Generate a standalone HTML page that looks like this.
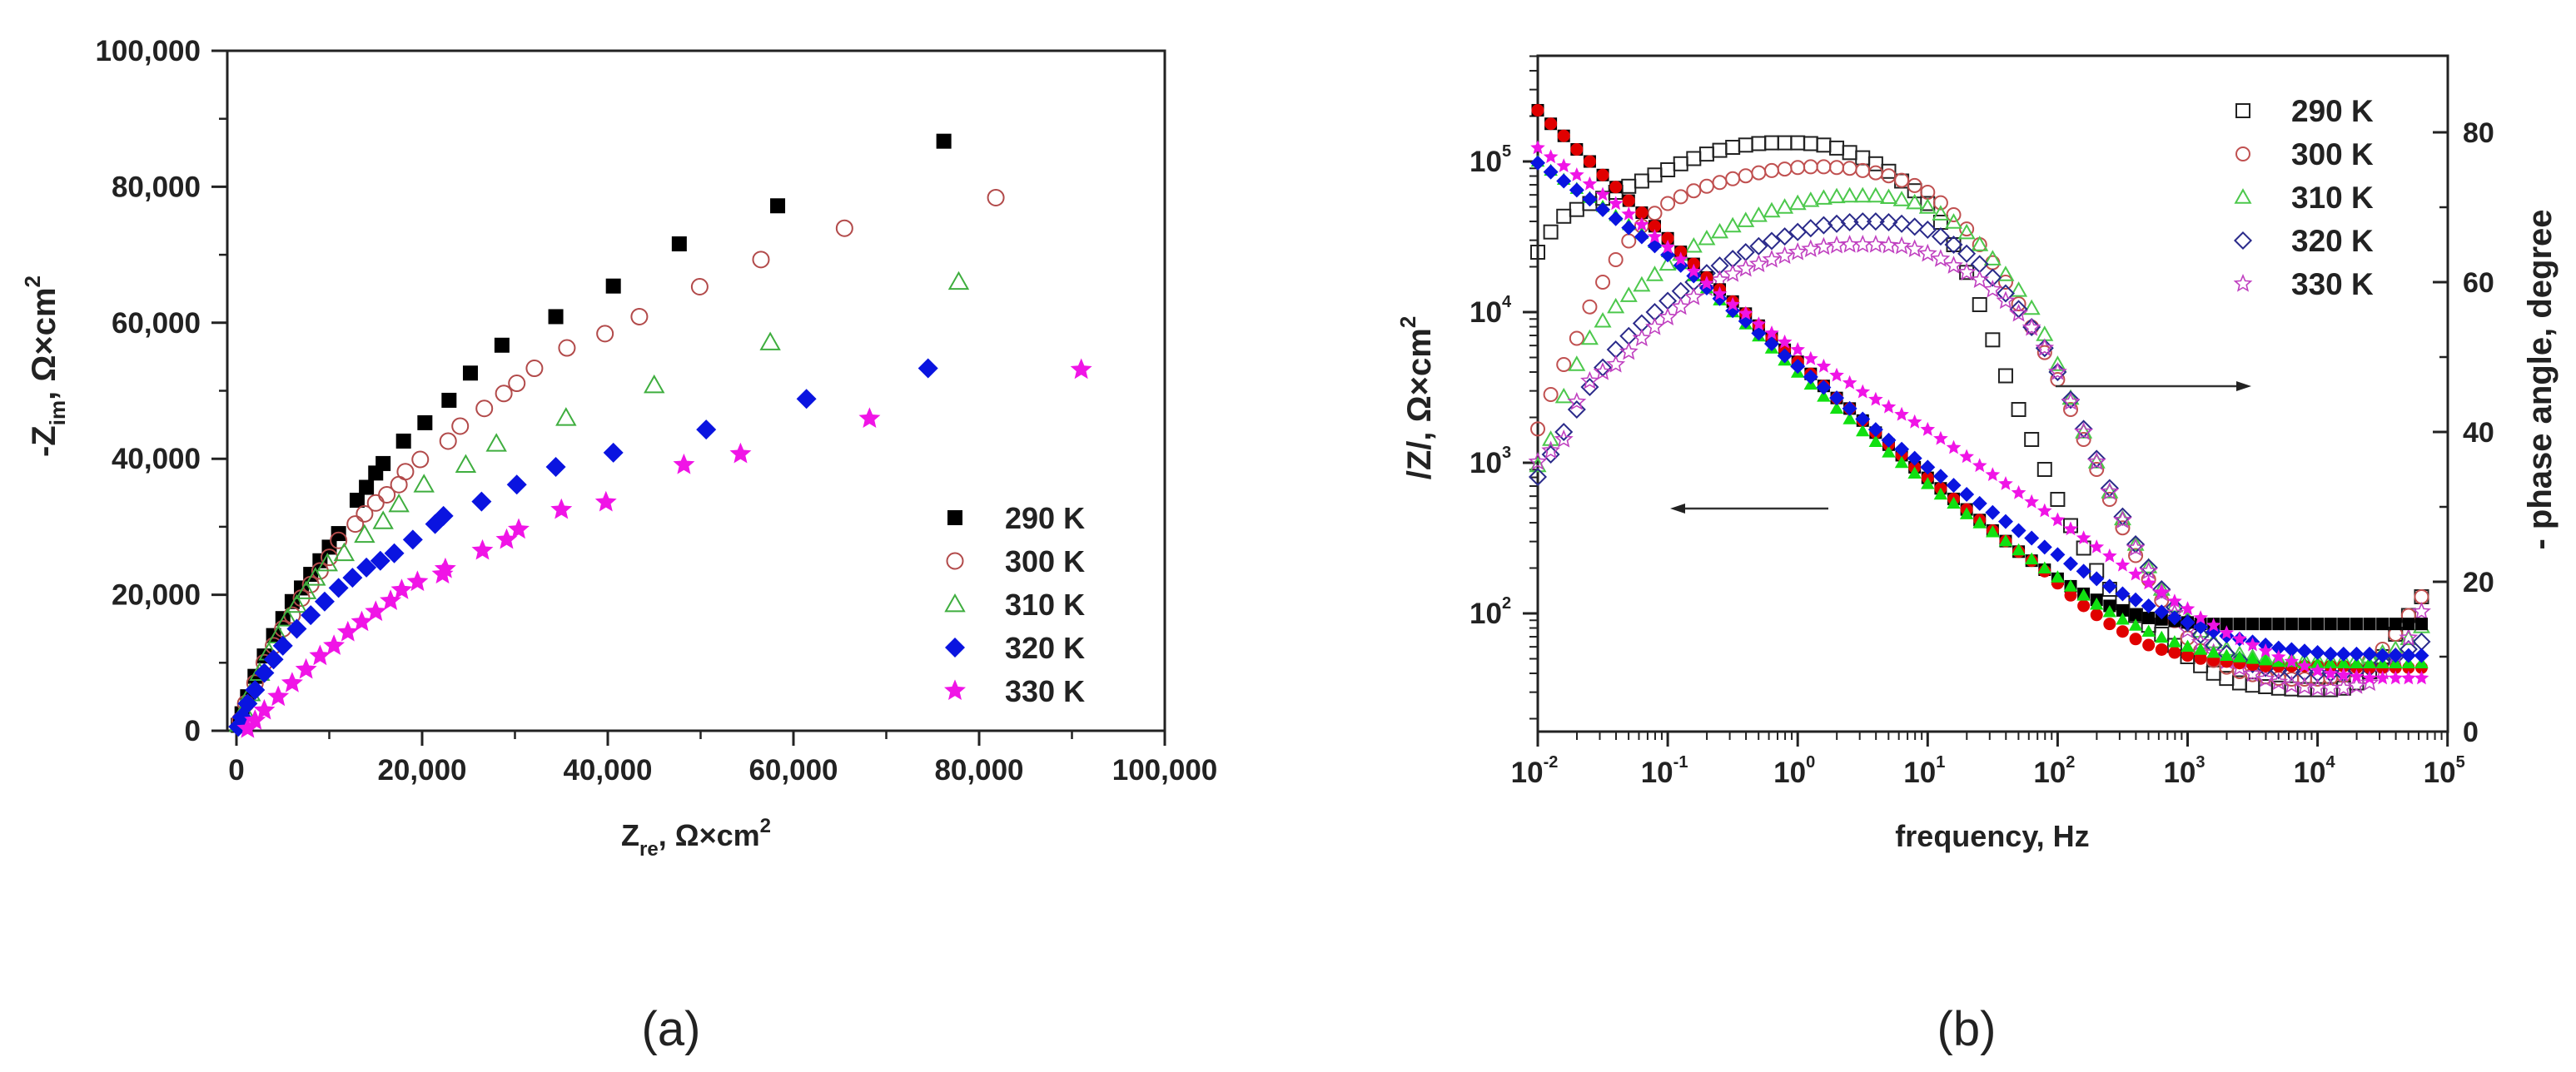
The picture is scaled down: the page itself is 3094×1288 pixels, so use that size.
<!DOCTYPE html>
<html><head><meta charset="utf-8"><style>
html,body{margin:0;padding:0;background:#fff;}
svg{display:block;font-family:"Liberation Sans",Arial,sans-serif;}
</style></head><body>
<svg id="fig" width="3094" height="1288" viewBox="0 0 3094 1288" xmlns="http://www.w3.org/2000/svg"></svg>
<script>
// ---------- Chart (a) data: Nyquist ----------
const nyqZre290=[76200,58300,47700,40600,34400,28600,25200,22900,20300,18000,15800,15000,14000,13000,11000,10000,9000,8000,7000,6000,5000,4000,3000,2000,1200,600,200];
const nyqZim290=[86700,77200,71600,65400,60900,56700,52600,48600,45300,42600,39300,37900,35800,33900,29000,27000,25000,23000,21000,19000,16500,14000,11000,8000,5000,2500,800];
const nyqZre300=[81800,65500,56500,49900,43400,39700,35600,32100,30200,28800,26700,24100,22800,19800,18200,17500,16200,15000,13800,12800,11000,10000,9000,8000,7000,6000,5000,4000,3000,2000,1000,400];
const nyqZim300=[78400,73900,69300,65300,60900,58400,56300,53300,51100,49600,47400,44800,42600,39900,38100,36200,34700,33500,31900,30400,28000,25500,23500,21500,19500,17000,15000,12500,10000,7000,4000,1500];
const nyqZre310=[77800,57500,45000,35500,28000,24700,20200,17500,15800,13800,11600,9800,8500,7500,6500,5500,4500,3500,2500,1500,800,300];
const nyqZim310=[66000,57100,50800,46000,42200,39100,36200,33300,30800,28800,26100,24600,22500,20500,18500,16500,14000,11500,8500,5500,3000,1000];
const nyqZre320=[74500,61400,50600,40600,34400,30200,26400,22300,21400,19000,17000,15500,14000,12500,11000,9500,8000,6500,5000,4000,3000,2000,1200,600,200];
const nyqZim320=[53300,48800,44300,40900,38800,36200,33700,31600,30400,28100,26100,25000,24000,22500,21000,19000,17000,15000,12500,10500,8500,6000,4000,2000,600];
const nyqZre330=[91000,68200,54300,48200,39800,35000,30400,29100,26500,22500,22200,19500,17800,16600,15000,13500,12000,10500,9000,7500,6000,4500,3000,2000,1200];
const nyqZim330=[53100,45900,40700,39100,33600,32500,29600,28100,26500,23800,23000,21900,20700,19100,17500,16000,14500,12500,11000,9000,7000,5000,3000,1500,300];
const nyqXTicks=[0,20000,40000,60000,80000,100000];
const nyqYTicks=[0,20000,40000,60000,80000,100000];
const tempLabels=["290 K","300 K","310 K","320 K","330 K"];

// ---------- Chart (b) data: Bode ----------
const bodeLogF=[-2,-1.9,-1.8,-1.7,-1.6,-1.5,-1.4,-1.3,-1.2,-1.1,
 -1,-0.9,-0.8,-0.7,-0.6,-0.5,-0.4,-0.3,-0.2,-0.1,
 0,0.1,0.2,0.3,0.4,0.5,0.6,0.7,0.8,0.9,
 1,1.1,1.2,1.3,1.4,1.5,1.6,1.7,1.8,1.9,
 2,2.1,2.2,2.3,2.4,2.5,2.6,2.7,2.8,2.9,
 3,3.1,3.2,3.3,3.4,3.5,3.6,3.7,3.8,3.9,
 4,4.1,4.2,4.3,4.4,4.5,4.6,4.7,4.8];
const logZ290=[5.34,5.25,5.17,5.08,5.0,4.91,4.83,4.74,4.66,4.57,
 4.49,4.40,4.32,4.23,4.15,4.07,3.99,3.91,3.83,3.75,
 3.67,3.59,3.51,3.43,3.36,3.28,3.2,3.12,3.05,2.97,
 2.9,2.83,2.76,2.69,2.62,2.55,2.48,2.41,2.35,2.29,
 2.23,2.18,2.13,2.09,2.05,2.02,1.99,1.97,1.96,1.95,
 1.94,1.93,1.93,1.93,1.93,1.93,1.93,1.93,1.93,1.93,
 1.93,1.93,1.93,1.93,1.93,1.93,1.93,1.93,1.93];
const logZ300=[5.34,5.25,5.17,5.08,5.0,4.91,4.83,4.74,4.66,4.57,
 4.49,4.40,4.32,4.23,4.15,4.07,3.99,3.91,3.83,3.75,
 3.67,3.59,3.51,3.43,3.36,3.28,3.2,3.12,3.05,2.97,
 2.9,2.83,2.76,2.69,2.62,2.55,2.48,2.41,2.35,2.28,
 2.2,2.12,2.05,1.99,1.93,1.88,1.83,1.79,1.76,1.74,
 1.72,1.7,1.69,1.68,1.67,1.66,1.65,1.65,1.65,1.65,
 1.65,1.65,1.65,1.64,1.64,1.64,1.64,1.64,1.64];
const logZ310=[5.0,4.94,4.88,4.82,4.76,4.70,4.64,4.58,4.52,4.46,
 4.4,4.32,4.24,4.16,4.08,4.0,3.92,3.84,3.76,3.68,
 3.6,3.52,3.44,3.36,3.29,3.21,3.14,3.07,3.0,2.93,
 2.86,2.79,2.73,2.66,2.6,2.54,2.48,2.42,2.36,2.3,
 2.24,2.18,2.12,2.06,2.01,1.96,1.92,1.88,1.84,1.81,
 1.78,1.76,1.74,1.72,1.71,1.7,1.69,1.68,1.68,1.67,
 1.67,1.67,1.67,1.67,1.67,1.67,1.67,1.67,1.67];
const logZ320=[4.99,4.93,4.87,4.81,4.75,4.68,4.62,4.56,4.5,4.44,
 4.38,4.31,4.24,4.16,4.09,4.01,3.94,3.86,3.79,3.71,
 3.64,3.57,3.5,3.43,3.36,3.29,3.22,3.15,3.09,3.03,
 2.97,2.91,2.85,2.79,2.73,2.67,2.61,2.55,2.5,2.44,
 2.39,2.33,2.28,2.23,2.18,2.13,2.09,2.05,2.01,1.97,
 1.94,1.91,1.88,1.85,1.83,1.81,1.79,1.77,1.76,1.75,
 1.74,1.73,1.73,1.73,1.73,1.72,1.72,1.72,1.72];
const logZ330=[5.09,5.03,4.97,4.91,4.85,4.78,4.72,4.65,4.58,4.5,
 4.43,4.35,4.27,4.19,4.12,4.05,3.99,3.92,3.86,3.80,
 3.75,3.69,3.64,3.58,3.53,3.47,3.42,3.37,3.32,3.27,
 3.22,3.16,3.1,3.04,2.98,2.92,2.86,2.8,2.74,2.68,
 2.62,2.56,2.5,2.44,2.38,2.32,2.26,2.2,2.14,2.08,
 2.03,1.97,1.92,1.87,1.83,1.79,1.75,1.71,1.68,1.65,
 1.62,1.6,1.59,1.58,1.57,1.57,1.57,1.57,1.57];
const phase290=[64,66.7,68.8,69.7,70.5,71.2,72,72.8,73.5,74.3,
 75,75.8,76.5,77.1,77.6,78,78.3,78.5,78.6,78.6,
 78.6,78.5,78.3,77.9,77.3,76.6,75.8,74.8,73.5,72.2,
 70.5,68,65,61.3,57,52.3,47.5,43,39,35,
 31,27.5,24.5,21.5,19,17.2,15.5,14.2,13,11.5,
 10,8.8,7.8,7.1,6.5,6.2,6,5.8,5.7,5.6,
 5.6,5.6,5.8,6.5,8,10,13,15.5,18];
const phase300=[40.4,45,49,52.5,56.7,60,63,65.5,67.5,69.2,
 70.5,71.4,72.2,72.8,73.3,73.8,74.2,74.6,74.9,75.1,
 75.3,75.4,75.4,75.3,75.2,74.9,74.6,74.2,73.6,72.9,
 72,70.6,69,67.1,65,62.6,60,57.1,54,50.6,
 47,43,39,35,31,27.2,23.5,20.3,17.5,14.8,
 12.5,10.8,9.5,8.6,8,7.6,7.3,7.1,7,7,
 7,7.2,7.5,8.3,9.5,11,13,15.5,18];
const phase310=[35.5,39,44.7,49,52.5,54.8,56.7,58.2,59.6,61,
 62.4,63.7,64.8,65.8,66.7,67.5,68.2,68.9,69.5,70,
 70.5,70.9,71.2,71.4,71.5,71.5,71.5,71.3,71,70.6,
 70,69.1,68,66.6,65,63.1,61,58.9,56.5,53,
 49,44.5,40,36,32,28.4,25,22,19,16.8,
 15,13.4,12,11,10.3,9.9,9.7,9.6,9.5,9.5,
 9.5,9.5,9.5,9.7,10,10.5,11,12.4,14];
const phase320=[34,37,40,43,46,48.6,51,52.8,54.5,56,
 57.5,58.8,60,61.2,62.2,63.1,64,64.8,65.5,66.1,
 66.7,67.2,67.6,67.8,68,68.1,68.1,68,67.8,67.4,
 67,66.1,65,63.8,62.4,60.6,58.5,56.4,54,51.2,
 48,44.3,40.4,36.4,32.5,28.7,25,21.9,19,16.6,
 14.5,12.9,11.5,10.4,9.5,9,8.5,8.2,8,7.9,
 7.8,7.8,7.8,8.1,8.5,9.2,10,11,12];
const phase330=[36,37.5,39,44,46.8,48,49,50.7,52.5,54,
 55.3,56.7,58,59.2,60.3,61.1,61.8,62.4,63,63.5,
 64,64.4,64.7,64.9,65,65,65,64.9,64.8,64.4,
 63.8,63.1,62.2,61.3,60.3,59,57.5,55.8,53.9,51.2,
 48,44,40,36,32,28.2,24.5,21.4,18.5,15.8,
 13.5,11.9,10.5,9.4,8.5,7.7,7,6.6,6.2,6,
 5.8,5.8,5.8,6.1,6.5,8,10,12.5,16];
const bodeXTickExp=[-2,-1,0,1,2,3,4,5];
const bodeYTickExp=[2,3,4,5];
const bodePhaseTicks=[0,20,40,60,80];

const NS="http://www.w3.org/2000/svg";
const svg=document.getElementById('fig');
function el(tag,attrs,parent,text){const e=document.createElementNS(NS,tag);for(const k in attrs)e.setAttribute(k,attrs[k]);if(text!==undefined)e.textContent=text;(parent||svg).appendChild(e);return e;}

function starPts(cx,cy,r){let p=[];for(let i=0;i<10;i++){const a=-Math.PI/2+i*Math.PI/5;const rr=i%2?r*0.45:r;p.push((cx+rr*Math.cos(a)).toFixed(1)+","+(cy+rr*Math.sin(a)).toFixed(1));}return p.join(" ");}
function marker(g,shape,cx,cy,s,color,filled){
  const fill=filled?color:"none";const sw=filled?0:2;let m;
  if(shape==="square")m=el('rect',{x:cx-s/2,y:cy-s/2,width:s,height:s,fill:fill,stroke:color,'stroke-width':sw},g);
  else if(shape==="circle")m=el('circle',{cx:cx,cy:cy,r:s/2,fill:fill,stroke:color,'stroke-width':sw},g);
  else if(shape==="triangle")m=el('polygon',{points:`${cx},${cy-s*0.55} ${cx+s*0.55},${cy+s*0.42} ${cx-s*0.55},${cy+s*0.42}`,fill:fill,stroke:color,'stroke-width':sw},g);
  else if(shape==="diamond")m=el('polygon',{points:`${cx},${cy-s*0.6} ${cx+s*0.6},${cy} ${cx},${cy+s*0.6} ${cx-s*0.6},${cy}`,fill:fill,stroke:color,'stroke-width':sw},g);
  else m=el('polygon',{points:starPts(cx,cy,s*0.62),fill:fill,stroke:color,'stroke-width':filled?0:1.6},g);
  
  
  return m;
}

// ================= Chart (a) =================
const A={x0:273,x1:1399,y0:61,y1:878,px0:284};
function ax(v){return A.px0+v/20000*223;}
function ay(v){return A.y1-v/20000*163.4;}
const gA=el('g',{});
const frameA=el('rect',{x:A.x0,y:A.y0,width:A.x1-A.x0,height:A.y1-A.y0,fill:'none',stroke:'#222','stroke-width':3},gA);

const xaxA=el('g',{},gA);
nyqXTicks.forEach((v,i)=>{
  el('line',{x1:ax(v),y1:A.y1,x2:ax(v),y2:A.y1+18,stroke:'#222','stroke-width':3},xaxA);
  if(i<nyqXTicks.length-1)el('line',{x1:ax(v+10000),y1:A.y1,x2:ax(v+10000),y2:A.y1+10,stroke:'#222','stroke-width':2.5},xaxA);
  const t=el('text',{x:ax(v),y:937,'text-anchor':'middle','font-size':35,'font-weight':'bold',fill:'#222'},xaxA,v.toLocaleString('en-US'));
  
});
const yaxA=el('g',{},gA);
nyqYTicks.forEach((v,i)=>{
  el('line',{x1:A.x0-19,y1:ay(v),x2:A.x0,y2:ay(v),stroke:'#222','stroke-width':3},yaxA);
  if(i<nyqYTicks.length-1)el('line',{x1:A.x0-10,y1:ay(v+10000),x2:A.x0,y2:ay(v+10000),stroke:'#222','stroke-width':2.5},yaxA);
  const t=el('text',{x:241,y:ay(v)+12,'text-anchor':'end','font-size':35,'font-weight':'bold',fill:'#222'},yaxA,v.toLocaleString('en-US'));
  
});
const xtA=el('text',{x:836,y:1016,'text-anchor':'middle','font-size':36,'font-weight':'bold',fill:'#222'},gA);

xtA.innerHTML='Z<tspan font-size="24" dy="12">re</tspan><tspan dy="-12">, Ω×cm</tspan><tspan font-size="24" dy="-16">2</tspan>';
const ytA=el('text',{x:0,y:0,'text-anchor':'middle','font-size':40,'font-weight':'bold',fill:'#222',transform:'translate(66,440) rotate(-90)'},gA);

ytA.innerHTML='-Z<tspan font-size="26" dy="12">im</tspan><tspan dy="-12">, Ω×cm</tspan><tspan font-size="26" dy="-18">2</tspan>';

const seriesA=[
 {x:nyqZre290,y:nyqZim290,shape:'square',color:'#000',filled:true,s:18},
 {x:nyqZre300,y:nyqZim300,shape:'circle',color:'#b24a4a',filled:false,s:19},
 {x:nyqZre310,y:nyqZim310,shape:'triangle',color:'#3fae3f',filled:false,s:20},
 {x:nyqZre320,y:nyqZim320,shape:'diamond',color:'#0a14e0',filled:true,s:20},
 {x:nyqZre330,y:nyqZim330,shape:'star',color:'#f014e6',filled:true,s:22}];
seriesA.forEach((s,k)=>{
  const g=el('g',{},gA);
  
  
  s.x.forEach((v,i)=>marker(g,s.shape,ax(v),ay(s.y[i]),s.s,s.color,s.filled));
  const lg=el('g',{},gA);
  
  
  const ly=622+k*52;
  marker(lg,s.shape,1147,ly,s.s,s.color,s.filled);
  el('text',{x:1207,y:ly+13,'font-size':36,'font-weight':'bold',fill:'#222'},lg,tempLabels[k]);
});
const capA=el('text',{x:806,y:1256,'text-anchor':'middle','font-size':58,fill:'#222'},svg,'(a)');


// ================= Chart (b) =================
const B={x0:1847,x1:2940,y0:67,y1:879};
function bx(lf){return B.x0+(lf+2)*156.1;}
function bym(l){return 556-(l-3)*181;}
function byp(d){return B.y1-d*9;}
const gB=el('g',{});
const frameB=el('rect',{x:B.x0,y:B.y0,width:B.x1-B.x0,height:B.y1-B.y0,fill:'none',stroke:'#222','stroke-width':3},gB);

const xaxB=el('g',{},gB);
bodeXTickExp.forEach((e,i)=>{
  el('line',{x1:bx(e),y1:B.y1,x2:bx(e),y2:B.y1+18,stroke:'#222','stroke-width':3},xaxB);
  if(i<bodeXTickExp.length-1)for(let m=2;m<10;m++){const xx=bx(e+Math.log10(m));el('line',{x1:xx,y1:B.y1,x2:xx,y2:B.y1+10,stroke:'#222','stroke-width':2},xaxB);}
  const t=el('text',{x:bx(e)-4,y:940,'text-anchor':'middle','font-size':35,'font-weight':'bold',fill:'#222'},xaxB);
  t.innerHTML='10<tspan font-size="20" dy="-18">'+e+'</tspan>';
  
});
const yaxB=el('g',{},gB);
for(let l=1;l<=5;l++){for(let m=1;m<10;m++){const yy=bym(l+Math.log10(m));if(yy<B.y0||yy>B.y1)continue;el('line',{x1:B.x0-(m===1?18:10),y1:yy,x2:B.x0,y2:yy,stroke:'#222','stroke-width':m===1?3:2},yaxB);}}
bodeYTickExp.forEach(e=>{
  const t=el('text',{x:1765,y:bym(e)+12,'font-size':35,'font-weight':'bold',fill:'#222'},yaxB);
  t.innerHTML='10<tspan font-size="20" dy="-18">'+e+'</tspan>';
  
});
const yaxB2=el('g',{},gB);
bodePhaseTicks.forEach((d,i)=>{
  el('line',{x1:B.x1-18,y1:byp(d),x2:B.x1,y2:byp(d),stroke:'#222','stroke-width':3},yaxB2);
  if(i<bodePhaseTicks.length-1)el('line',{x1:B.x1-10,y1:byp(d+10),x2:B.x1,y2:byp(d+10),stroke:'#222','stroke-width':2.5},yaxB2);
  const t=el('text',{x:2958,y:byp(d)+12,'font-size':34,'font-weight':'bold',fill:'#222'},yaxB2,String(d));
  
});
const xtB=el('text',{x:2393,y:1017,'text-anchor':'middle','font-size':36,'font-weight':'bold',fill:'#222'},gB,'frequency, Hz');

const ytB=el('text',{x:0,y:0,'text-anchor':'middle','font-size':40,'font-weight':'bold',fill:'#222',transform:'translate(1718,478) rotate(-90)'},gB);
ytB.innerHTML='/Z/, Ω×cm<tspan font-size="26" dy="-18">2</tspan>';

const ytB2=el('text',{x:0,y:0,'text-anchor':'middle','font-size':40,'font-weight':'bold',fill:'#222',transform:'translate(3064,456) rotate(-90)'},gB,'- phase angle, degree');


const magSeries=[
 {v:logZ290,shape:'square',color:'#000'},
 {v:logZ300,shape:'circle',color:'#e00000'},
 {v:logZ310,shape:'triangle',color:'#11e011'},
 {v:logZ320,shape:'diamond',color:'#0a14e0'},
 {v:logZ330,shape:'star',color:'#f014e6'}];
const phSeries=[
 {v:phase290,shape:'square',color:'#222'},
 {v:phase300,shape:'circle',color:'#c05050'},
 {v:phase310,shape:'triangle',color:'#4cc84c'},
 {v:phase320,shape:'diamond',color:'#2a2a8a'},
 {v:phase330,shape:'star',color:'#c040c0'}];
phSeries.forEach((s,k)=>{
  const g=el('g',{},gB);
  
  
  bodeLogF.forEach((lf,i)=>marker(g,s.shape,bx(lf),byp(s.v[i]),16,s.color,false));
});
magSeries.forEach((s,k)=>{
  const g=el('g',{},gB);
  
  
  bodeLogF.forEach((lf,i)=>marker(g,s.shape,bx(lf),bym(s.v[i]),15,s.color,true));
});
phSeries.forEach((s,k)=>{
  const lg=el('g',{},gB);
  
  
  const ly=133+k*52;
  marker(lg,s.shape,2694,ly,16,s.color,false);
  el('text',{x:2752,y:ly+13,'font-size':37,'font-weight':'bold',fill:'#222'},lg,tempLabels[k]);
});
const arR=el('g',{},gB);

el('line',{x1:2469,y1:464,x2:2690,y2:464,stroke:'#333','stroke-width':2.5},arR);
el('polygon',{points:'2704,464 2686,458 2686,470',fill:'#222'},arR);
const arL=el('g',{},gB);

el('line',{x1:2196,y1:611,x2:2020,y2:611,stroke:'#333','stroke-width':2.5},arL);
el('polygon',{points:'2006,611 2024,605 2024,617',fill:'#222'},arL);

const capB=el('text',{x:2362,y:1256,'text-anchor':'middle','font-size':58,fill:'#222'},svg,'(b)');

</script>
</body></html>
